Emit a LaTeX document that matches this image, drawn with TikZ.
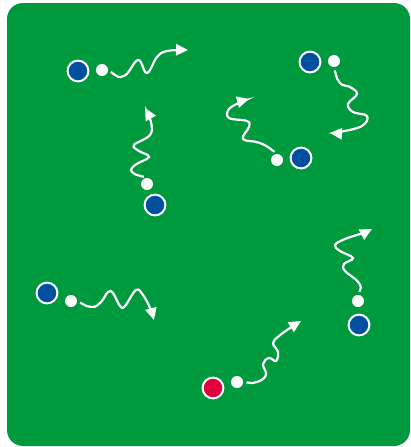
\documentclass[tikz,border=0pt]{standalone}
\usepackage{xcolor}
\usepackage{tikz}
\usetikzlibrary{arrows.meta}

\definecolor{pitch}{RGB}{0,154,62}
\definecolor{teamblue}{RGB}{0,80,160}
\definecolor{teamred}{RGB}{226,0,60}

\begin{document}
\begin{tikzpicture}[x=0.025cm, y=-0.025cm,
        player/.style={draw=white, circle, line width=0.05cm, minimum size=0.52cm, inner sep=0pt},
        ball/.style={fill=white, circle, minimum size=0.3cm, inner sep=0pt},
        run/.style={white, line width=0.055cm, -{Triangle[length=0.3cm, width=0.28cm]}, shorten <=0.08cm}]
        \useasboundingbox (0,0) rectangle (411,447);
        % Pitch
        \fill[pitch, rounded corners=0.4cm] (7,3) rectangle (410,446);

        % Players
        \node (p1) [player, fill=teamblue] at (78,71) {};
        \node (p2) [player, fill=teamblue] at (310,62) {};
        \node (p3) [player, fill=teamblue] at (301,158) {};
        \node (p4) [player, fill=teamblue] at (155,205) {};
        \node (p5) [player, fill=teamblue] at (47,293) {};
        \node (p6) [player, fill=teamblue] at (359,325) {};
        \node (p7) [player, fill=teamred] at (213,388) {};

        % Balls
        \node (b1) [ball] at (102,70) {};
        \node (b2) [ball] at (334,61) {};
        \node (b3) [ball] at (277,160) {};
        \node (b4) [ball] at (147,184) {};
        \node (b5) [ball] at (71,301) {};
        \node (b6) [ball] at (358,301) {};
        \node (b7) [ball] at (237,382) {};

        % Arrow tips
        \coordinate (t1) at (188,50);
        \coordinate (t2) at (330,133);
        \coordinate (t3) at (249,99);
        \coordinate (t4) at (145,108);
        \coordinate (t5) at (154,320);
        \coordinate (t6) at (372,229);
        \coordinate (t7) at (301,321);

        % Runs
        \draw[run] plot[smooth, tension=0.65] coordinates {(b1.east) (124,76) (138,60) (147,73) (157,57) (167,51) (t1)};
        \draw[run] plot[smooth, tension=0.65] coordinates {(b2.south) (340,83) (350,87) (357,94) (348,104) (353,112) (367,116) (362,126) (340,132) (t2)};
        \draw[run] plot[smooth, tension=0.65] coordinates {(b3.north) (260,143) (243,139) (249,127) (247,121) (229,118) (229,109) (241,102) (t3)};
        \draw[run] plot[smooth, tension=0.65] coordinates {(b4.north) (132,172) (135,165) (149,157) (139,151) (134,145) (150,135) (151,122) (t4)};
        \draw[run] plot[smooth, tension=0.65] coordinates {(b5.east) (92,307) (101,302) (108,292) (113,293) (120,306) (125,306) (136,290) (143,295) (150,308) (t5)};
        \draw[run] plot[smooth, tension=0.65] coordinates {(b6.north) (359,283) (345,271) (344,264) (353,258) (340,251) (335,245) (345,239) (363,233) (t6)};
        \draw[run] plot[smooth, tension=0.65] coordinates {(b7.east) (257,382) (266,375) (263,364) (269,358) (276,361) (278,352) (273,343) (279,336) (290,328) (t7)};
\end{tikzpicture}
\end{document}
